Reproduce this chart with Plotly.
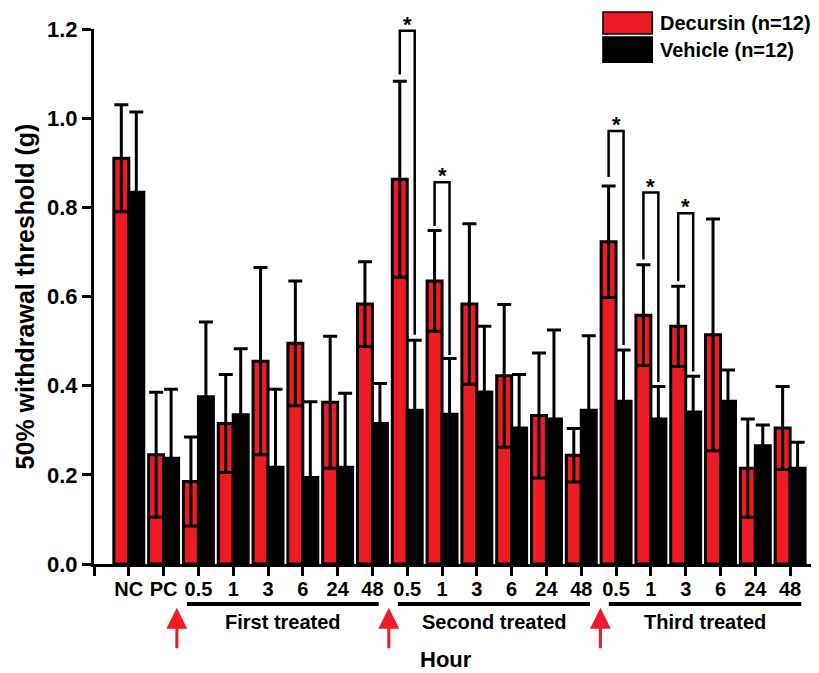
import plotly.graph_objects as go

# ---- data ----
tick_labels = ["NC", "PC", "0.5", "1", "3", "6", "24", "48",
               "0.5", "1", "3", "6", "24", "48",
               "0.5", "1", "3", "6", "24", "48"]
decursin = [0.91, 0.245, 0.185, 0.315, 0.455, 0.495, 0.363, 0.583,
            0.863, 0.635, 0.583, 0.422, 0.333, 0.244,
            0.723, 0.558, 0.533, 0.514, 0.215, 0.305]
decursin_err = [0.12, 0.14, 0.10, 0.11, 0.21, 0.14, 0.148, 0.095,
                0.22, 0.113, 0.18, 0.16, 0.14, 0.06,
                0.125, 0.113, 0.09, 0.26, 0.11, 0.093]
vehicle = [0.834, 0.237, 0.375, 0.335, 0.217, 0.194, 0.217, 0.315,
           0.345, 0.336, 0.386, 0.305, 0.325, 0.345,
           0.365, 0.325, 0.341, 0.365, 0.265, 0.215]
vehicle_err = [0.18, 0.155, 0.168, 0.148, 0.175, 0.17, 0.166, 0.09,
               0.157, 0.125, 0.147, 0.12, 0.2, 0.167,
               0.115, 0.073, 0.08, 0.07, 0.047, 0.058]
series_names = ["Decursin (n=12)", "Vehicle (n=12)"]
# significance brackets: group index, bracket top, left leg end, right leg end
sig_groups = [8, 9, 14, 15, 16]
sig_top = [1.196, 0.856, 0.971, 0.833, 0.787]
sig_left = [1.098, 0.758, 0.868, 0.683, 0.634]
sig_right = [0.514, 0.469, 0.491, 0.408, 0.432]
phase_labels = ["First treated", "Second treated", "Third treated"]
phase_start = [1.67, 7.73, 13.79]
phase_end = [7.18, 13.25, 19.32]
arrow_x = [1.38, 7.47, 13.55]

RED = "#ED1C24"
FONT = "Liberation Sans"
x = list(range(len(tick_labels)))

fig = go.Figure()
fig.add_trace(go.Bar(
    x=x, y=decursin, name=series_names[0],
    marker=dict(color=RED, line=dict(color="black", width=3)),
    error_y=dict(type="data", array=decursin_err, color="black", thickness=3, width=7),
))
fig.add_trace(go.Bar(
    x=x, y=vehicle, name=series_names[1],
    marker=dict(color="black", line=dict(color="black", width=3)),
    error_y=dict(type="data", array=vehicle_err, color="black", thickness=3, width=7),
))

half = (1 - 0.14) / 4  # offset of each bar centre from group centre
shapes = []
annotations = []
for g, top, yl, yr in zip(sig_groups, sig_top, sig_left, sig_right):
    xl, xr = g - half, g + half
    shapes.append(dict(type="path", xref="x", yref="y",
                       path=f"M{xl},{yl} L{xl},{top} L{xr},{top} L{xr},{yr}",
                       line=dict(color="black", width=2.5)))
    annotations.append(dict(x=g, y=top, xref="x", yref="y", text="<b>*</b>",
                            showarrow=False, yanchor="bottom", yshift=-8,
                            font=dict(family=FONT, size=22, color="black")))

for s, e, lab in zip(phase_start, phase_end, phase_labels):
    shapes.append(dict(type="line", xref="x", yref="paper", x0=s, x1=e,
                       y0=-0.0748, y1=-0.0748, line=dict(color="black", width=4)))
    annotations.append(dict(x=(s + e) / 2, y=-0.108, xref="x", yref="paper",
                            text=f"<b>{lab}</b>", showarrow=False, yanchor="middle",
                            font=dict(family=FONT, size=20, color="black")))

for ax_ in arrow_x:
    annotations.append(dict(x=ax_, y=-0.082, xref="x", yref="paper", text="",
                            showarrow=True, ax=0, ay=42, axref="pixel", ayref="pixel",
                            arrowcolor=RED, arrowwidth=3, arrowhead=2, arrowsize=1.4))

annotations.append(dict(x=0.486, y=-0.178, xref="paper", yref="paper", text="<b>Hour</b>",
                        showarrow=False, yanchor="middle",
                        font=dict(family=FONT, size=22, color="black")))

# custom legend
leg_y = [(1.0318, 0.9907), (0.985, 0.938)]
leg_c = [RED, "black"]
for (y1, y0), c, name in zip(leg_y, leg_c, series_names):
    shapes.append(dict(type="rect", xref="paper", yref="paper", x0=0.702, x1=0.770,
                       y0=y0, y1=y1, fillcolor=c, line=dict(color="black", width=1.5)))
    annotations.append(dict(x=0.778, y=(y0 + y1) / 2, xref="paper", yref="paper",
                            text=f"<b>{name}</b>", showarrow=False, xanchor="left",
                            yanchor="middle", font=dict(family=FONT, size=20, color="black")))

# page has an 8px body margin, so the figure is sized to fit the 819x673 window
fig.update_layout(
    width=811, height=665,
    margin=dict(l=86, r=0, t=21, b=109),
    paper_bgcolor="white", plot_bgcolor="white",
    barmode="group", bargap=0.14, bargroupgap=0,
    showlegend=False,
    shapes=shapes, annotations=annotations,
    font=dict(family=FONT, color="black"),
)
fig.update_xaxes(
    range=[-1.0, 19.83],
    tickvals=[-1] + x, ticktext=[""] + [f"<b>{t}</b>" for t in tick_labels],
    showline=True, linecolor="black", linewidth=3,
    ticks="outside", ticklen=9, tickwidth=3, tickcolor="black",
    ticklabelstandoff=-4,
    tickfont=dict(family=FONT, size=20, color="black"),
    showgrid=False, zeroline=False,
)
fig.update_yaxes(
    range=[0, 1.2], tickvals=[0, 0.2, 0.4, 0.6, 0.8, 1.0, 1.2],
    ticktext=["<b>0.0</b>", "<b>0.2</b>", "<b>0.4</b>", "<b>0.6</b>", "<b>0.8</b>", "<b>1.0</b>", "<b>1.2</b>"],
    showline=True, linecolor="black", linewidth=3,
    ticks="outside", ticklen=9, tickwidth=3, tickcolor="black",
    tickfont=dict(family=FONT, size=22, color="black"),
    showgrid=False, zeroline=False,
    title=dict(text="<b>50% withdrawal threshold (g)</b>", standoff=6,
               font=dict(family=FONT, size=25, color="black")),
)

fig.write_html("out.html")
